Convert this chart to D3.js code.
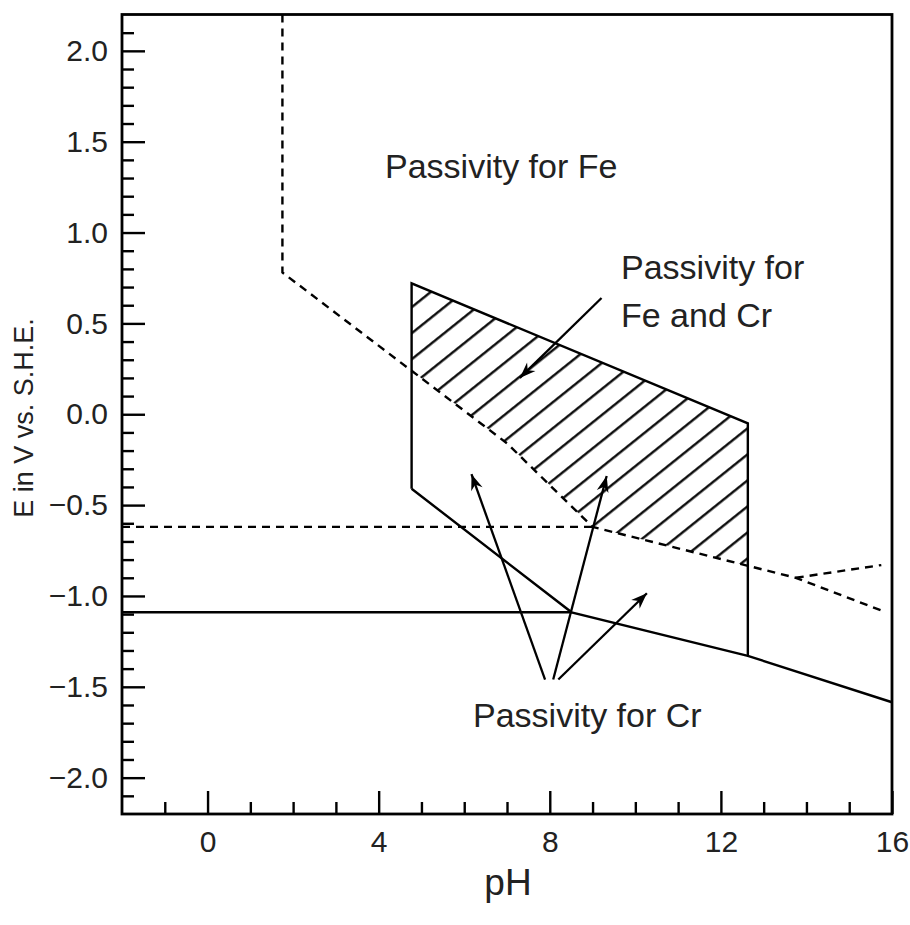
<!DOCTYPE html>
<html>
<head>
<meta charset="utf-8">
<script src="https://cdn.jsdelivr.net/npm/d3@7"></script>
<style>
  body { margin: 0; background: #fff; }
  svg { display: block; font-family: "Liberation Sans", Arial, Helvetica, sans-serif; }
  .tick text { fill: #222; }
</style>
</head>
<body>
<div id="chart"></div>
<script>
// axis ticks
const xMajorTicks = [0, 4, 8, 12, 16];
const yMajorTicks = [-2.0, -1.5, -1.0, -0.5, 0.0, 0.5, 1.0, 1.5, 2.0];

// Fe passivity boundary (dashed), pH vs E
const feBoundary = [[1.75, 2.2], [1.75, 0.78], [7.0, -0.16], [9.0, -0.62], [13.75, -0.90], [15.75, -1.08]];
const feBranch = [[13.75, -0.90], [15.75, -0.83]];
const feLevel = [[-2, -0.62], [9.0, -0.62]];

// Cr passivity (solid)
const crLower = [[4.77, -0.41], [8.51, -1.09], [12.63, -1.33], [16, -1.585]];
const crLevel = [[-2, -1.09], [8.51, -1.09]];
const crBox = [[4.77, -0.41], [4.77, 0.72], [12.63, -0.05], [12.63, -1.33]];

// arrows: [from, to]
const arrows = [
  [[9.21, 0.64], [7.30, 0.20]],
  [[7.89, -1.46], [6.17, -0.33]],
  [[8.08, -1.46], [9.33, -0.34]],
  [[8.20, -1.46], [10.27, -0.985]]
];

const labels = [
  { text: "Passivity for Fe", x: 385, y: 178 },
  { text: "Passivity for", x: 621, y: 279 },
  { text: "Fe and Cr", x: 621, y: 327 },
  { text: "Passivity for Cr", x: 473, y: 727 }
];

(function () {
  const width = 910, height = 925;

  const svg = d3.select("#chart")
    .append("svg")
    .attr("width", width)
    .attr("height", height);

  const x = d3.scaleLinear().domain([-2, 16]).range([122, 892]);
  const y = d3.scaleLinear().domain([-2.2, 2.2]).range([814, 14.5]);

  const line = d3.line().x(d => x(d[0])).y(d => y(d[1]));

  // E on the Fe boundary at a given pH
  const feAt = ph => {
    for (let i = 1; i < feBoundary.length; i++) {
      const a = feBoundary[i - 1], b = feBoundary[i];
      if (ph >= a[0] && ph <= b[0] && b[0] > a[0]) {
        return a[1] + (b[1] - a[1]) * (ph - a[0]) / (b[0] - a[0]);
      }
    }
    return null;
  };

  const defs = svg.append("defs");
  const hatch = defs.append("pattern")
    .attr("id", "hatch")
    .attr("patternUnits", "userSpaceOnUse")
    .attr("width", 10)
    .attr("height", 20.3)
    .attr("patternTransform", "rotate(-38.7)");
  hatch.append("line")
    .attr("x1", 0).attr("x2", 10)
    .attr("y1", 10).attr("y2", 10)
    .attr("stroke", "#000")
    .attr("stroke-width", 2.3);

  defs.append("marker")
    .attr("id", "head")
    .attr("markerUnits", "userSpaceOnUse")
    .attr("viewBox", "-17 -7 18 14")
    .attr("refX", 0).attr("refY", 0)
    .attr("markerWidth", 18).attr("markerHeight", 14)
    .attr("orient", "auto")
    .append("path")
    .attr("d", "M0,0 L-16,-6 L-11,0 L-16,6 Z")
    .attr("fill", "#000");

  // hatched region between box top and Fe boundary
  const left = crBox[1][0], right = crBox[2][0];
  const hatchPoly = [crBox[1], crBox[2], [right, feAt(right)]]
    .concat(feBoundary.filter(d => d[0] > left && d[0] < right).reverse())
    .concat([[left, feAt(left)]]);
  svg.append("path")
    .attr("d", line(hatchPoly) + "Z")
    .attr("fill", "url(#hatch)");

  // dashed Fe lines
  [feBoundary, feBranch, feLevel].forEach(pts => {
    svg.append("path")
      .attr("d", line(pts))
      .attr("fill", "none")
      .attr("stroke", "#000")
      .attr("stroke-width", 2.4)
      .attr("stroke-dasharray", "8,6");
  });

  // solid Cr lines
  [crLower, crLevel, crBox].forEach(pts => {
    svg.append("path")
      .attr("d", line(pts))
      .attr("fill", "none")
      .attr("stroke", "#000")
      .attr("stroke-width", 2.4);
  });

  // arrows
  svg.selectAll(".arrow")
    .data(arrows)
    .enter()
    .append("line")
    .attr("class", "arrow")
    .attr("x1", d => x(d[0][0])).attr("y1", d => y(d[0][1]))
    .attr("x2", d => x(d[1][0])).attr("y2", d => y(d[1][1]))
    .attr("stroke", "#000")
    .attr("stroke-width", 2.3)
    .attr("marker-end", "url(#head)");

  // axes, ticks pointing inward
  const yMinor = d3.range(-21, 22).filter(i => i % 5 !== 0).map(i => i / 10);
  const xMinor = d3.range(-1, 16).filter(i => i % 4 !== 0);

  const gy = svg.append("g").attr("transform", `translate(${x(-2)},0)`);
  gy.call(d3.axisLeft(y).tickValues(yMinor).tickSize(-12).tickFormat(""));
  gy.call(g => g.select(".domain").remove());
  const gy2 = svg.append("g").attr("transform", `translate(${x(-2)},0)`);
  gy2.call(d3.axisLeft(y).tickValues(yMajorTicks).tickSize(-23).tickPadding(14)
    .tickFormat(d3.format(".1f")));
  gy2.call(g => g.select(".domain").remove());

  const gx = svg.append("g").attr("transform", `translate(0,${y(-2.2)})`);
  gx.call(d3.axisBottom(x).tickValues(xMinor).tickSize(-12).tickFormat(""));
  gx.call(g => g.select(".domain").remove());
  const gx2 = svg.append("g").attr("transform", `translate(0,${y(-2.2)})`);
  gx2.call(d3.axisBottom(x).tickValues(xMajorTicks).tickSize(-23).tickPadding(17)
    .tickFormat(d3.format("d")));
  gx2.call(g => g.select(".domain").remove());

  svg.selectAll(".tick line").attr("stroke", "#000").attr("stroke-width", 2.4);
  svg.selectAll(".tick text").attr("font-size", 30).attr("font-family", null);

  // frame
  svg.append("rect")
    .attr("x", x(-2)).attr("y", y(2.2))
    .attr("width", x(16) - x(-2)).attr("height", y(-2.2) - y(2.2))
    .attr("fill", "none")
    .attr("stroke", "#000")
    .attr("stroke-width", 2.8);

  // axis titles
  svg.append("text")
    .attr("x", 508)
    .attr("y", 895)
    .attr("text-anchor", "middle")
    .attr("font-size", 37)
    .attr("fill", "#222")
    .text("pH");

  svg.append("text")
    .attr("transform", "translate(33,418) rotate(-90)")
    .attr("text-anchor", "middle")
    .attr("font-size", 27)
    .attr("fill", "#222")
    .text("E in V vs. S.H.E.");

  svg.selectAll(".label")
    .data(labels)
    .enter()
    .append("text")
    .attr("class", "label")
    .attr("x", d => d.x)
    .attr("y", d => d.y)
    .attr("font-size", 34)
    .attr("fill", "#222")
    .text(d => d.text);
})();
</script>
</body>
</html>
